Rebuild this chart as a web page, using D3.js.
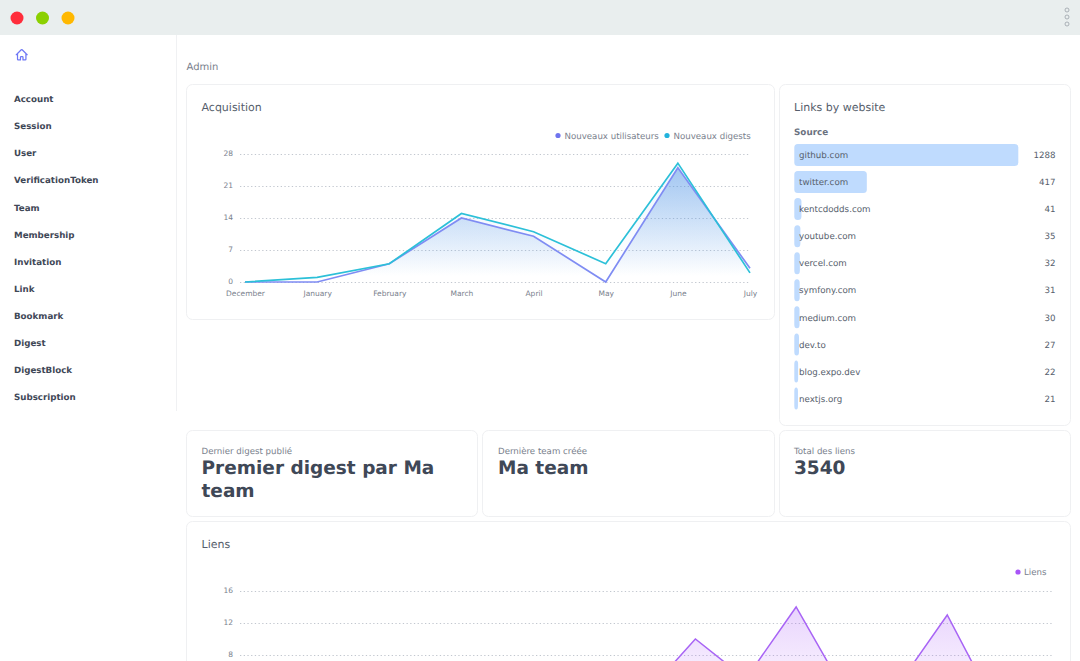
<!DOCTYPE html>
<html>
<head>
<meta charset="utf-8">
<script src="https://cdn.jsdelivr.net/npm/d3@7"></script>
<style>
  html, body { margin: 0; padding: 0; background: #fff; overflow: hidden; }
  svg { display: block; }
  text { font-family: "DejaVu Sans", sans-serif; text-rendering: geometricPrecision; }
</style>
</head>
<body>
<div class="graph-container"></div>
<script>
const menuItems = ["Account", "Session", "User", "VerificationToken", "Team", "Membership", "Invitation", "Link", "Bookmark", "Digest", "DigestBlock", "Subscription"];

const months = ["December", "January", "February", "March", "April", "May", "June", "July"];
const newUsers = [0, 0, 4, 14, 10, 0, 25, 3];
const newDigests = [0, 1, 4, 15, 11, 4, 26, 2];
const acquisitionTicks = [0, 7, 14, 21, 28];

const sources = ["github.com", "twitter.com", "kentcdodds.com", "youtube.com", "vercel.com", "symfony.com", "medium.com", "dev.to", "blog.expo.dev", "nextjs.org"];
const sourceCounts = [1288, 417, 41, 35, 32, 31, 30, 27, 22, 21];

// only the part of the Liens chart that is above the fold
const linkSlots = [8, 9, 10, 11, 12, 13, 14, 15];
const linkCounts = [3, 10, 5, 14, 3, 4, 13, 1];
const linkTicks = [8, 12, 16];

const dims = { width: 1080, height: 661 };

const svg = d3.select(".graph-container")
  .append("svg")
  .attr("width", dims.width)
  .attr("height", dims.height);

const defs = svg.append("defs");

let addGradient = (id, top, topOpacity) => {
  const g = defs.append("linearGradient").attr("id", id).attr("x1", 0).attr("x2", 0).attr("y1", 0).attr("y2", 1);
  g.append("stop").attr("offset", "5%").attr("stop-color", top).attr("stop-opacity", topOpacity);
  g.append("stop").attr("offset", "95%").attr("stop-color", top).attr("stop-opacity", 0);
};
addGradient("usersFill", "#4a90e2", 0.44);
addGradient("digestsFill", "#60a5fa", 0.1);
addGradient("linksFill", "#a855f7", 0.24);

// window bar
svg.append("rect").attr("width", dims.width).attr("height", 35).attr("fill", "#e9eeee");
svg.selectAll("circle.dot").data(["#ff2d3b", "#8bd000", "#ffb800"]).enter().append("circle")
  .attr("class", "dot")
  .attr("cx", (d, i) => 17 + i * 25.5)
  .attr("cy", 18)
  .attr("r", 6.5)
  .attr("fill", d => d);
svg.selectAll("circle.kebab").data([10, 17, 24]).enter().append("circle")
  .attr("class", "kebab")
  .attr("cx", 1067)
  .attr("cy", d => d)
  .attr("r", 2)
  .attr("fill", "none")
  .attr("stroke", "#9aa1a8")
  .attr("stroke-width", 0.8);

// sidebar
svg.append("line").attr("x1", 176.5).attr("x2", 176.5).attr("y1", 35).attr("y2", 411).attr("stroke", "#f0f1f3");
svg.append("path")
  .attr("transform", "translate(15,48) scale(0.56)")
  .attr("d", "M2.25 12 11.2 3.05a1.13 1.13 0 0 1 1.6 0L21.75 12M4.5 9.75V20.25c0 .62.5 1.13 1.13 1.13H9.75v-4.88c0-.62.5-1.13 1.13-1.13h2.25c.62 0 1.13.5 1.13 1.13v4.88h4.13c.62 0 1.13-.5 1.13-1.13V9.75")
  .attr("fill", "none")
  .attr("stroke", "#6f78f5")
  .attr("stroke-width", 2.2)
  .attr("stroke-linecap", "round")
  .attr("stroke-linejoin", "round");

const menuY = d3.scalePoint().domain(menuItems).range([99, 397]);
svg.selectAll("text.menu").data(menuItems).enter().append("text")
  .attr("class", "menu")
  .attr("x", 14)
  .attr("y", d => menuY(d) + 3.2)
  .attr("font-size", 8.7)
  .attr("font-weight", 700)
  .attr("fill", "#3f4857")
  .text(d => d);

svg.append("text").attr("x", 186.5).attr("y", 70).attr("font-size", 10).attr("fill", "#7a818d").text("Admin");

// cards
let card = (x, y, w, h) => svg.append("rect")
  .attr("x", x + 0.5).attr("y", y + 0.5).attr("width", w).attr("height", h).attr("rx", 6)
  .attr("fill", "#fff").attr("stroke", "#eff0f2");

let title = (x, y, label) => svg.append("text")
  .attr("x", x).attr("y", y).attr("font-size", 11).attr("fill", "#565e6c").text(label);

card(186, 84, 588, 235);
card(779, 84, 291, 341);
card(186, 430, 291, 86);
card(482, 430, 292, 86);
card(779, 430, 291, 86);
card(186, 521, 884, 160);

title(201.5, 111.2, "Acquisition");
title(794, 111.2, "Links by website");
title(201.5, 547.8, "Liens");

// acquisition chart
const xMonth = d3.scalePoint().domain(months).range([245, 750]);
const yAcq = d3.scaleLinear().domain([0, 28]).range([282, 154]);

const acq = svg.append("g").attr("class", "acquisition");

const acqGrid = acq.append("g").attr("transform", "translate(240,0)")
  .call(d3.axisLeft(yAcq).tickValues(acquisitionTicks).tickSize(-510).tickPadding(7));
acqGrid.select(".domain").remove();
acqGrid.selectAll("line").attr("stroke", "#c2c7cf").attr("stroke-dasharray", "1.3 2.4");
acqGrid.selectAll("text").attr("font-size", 7.5).attr("fill", "#7a818d").attr("dy", "0.25em");

const acqAxis = acq.append("g").attr("transform", "translate(0,282)")
  .call(d3.axisBottom(xMonth).tickSize(0).tickPadding(9));
acqAxis.select(".domain").remove();
acqAxis.selectAll("text").attr("font-size", 7.5).attr("fill", "#7a818d");

let acqArea = d3.area().x((d, i) => xMonth(months[i])).y0(yAcq(0)).y1(d => yAcq(d));
let acqLine = d3.line().x((d, i) => xMonth(months[i])).y(d => yAcq(d));

acq.append("path").attr("d", acqArea(newDigests)).attr("fill", "url(#digestsFill)");
acq.append("path").attr("d", acqArea(newUsers)).attr("fill", "url(#usersFill)");
acq.append("path").attr("d", acqLine(newUsers)).attr("fill", "none").attr("stroke", "#7f8cf3").attr("stroke-width", 1.7);
acq.append("path").attr("d", acqLine(newDigests)).attr("fill", "none").attr("stroke", "#2cc0d8").attr("stroke-width", 1.7);

let legendItem = (cx, y, color, label) => {
  svg.append("circle").attr("cx", cx).attr("cy", y).attr("r", 2.6).attr("fill", color);
  svg.append("text").attr("x", cx + 6.5).attr("y", y + 3).attr("font-size", 8.65).attr("fill", "#7a818d").text(label);
};
legendItem(558, 135.5, "#6f74ee", "Nouveaux utilisateurs");
legendItem(667, 135.5, "#22b3dd", "Nouveaux digests");

// links by website
svg.append("text").attr("x", 794).attr("y", 135.3).attr("font-size", 8.8).attr("font-weight", 700).attr("fill", "#6b7280").text("Source");

const xSource = d3.scaleLinear().domain([0, 1288]).range([0, 224]);
const ySource = d3.scalePoint().domain(sources).range([155, 398.5]);

svg.selectAll("rect.bar").data(sources).enter().append("rect")
  .attr("class", "bar")
  .attr("x", 794.3)
  .attr("y", d => ySource(d) - 11)
  .attr("width", (d, i) => xSource(sourceCounts[i]))
  .attr("height", 22)
  .attr("rx", 3.5)
  .attr("fill", "#bfdbfe");
svg.selectAll("text.source").data(sources).enter().append("text")
  .attr("class", "source")
  .attr("x", 799)
  .attr("y", d => ySource(d) + 3.2)
  .attr("font-size", 8.7)
  .attr("fill", "#565e6c")
  .text(d => d);
svg.selectAll("text.count").data(sources).enter().append("text")
  .attr("class", "count")
  .attr("x", 1055.5)
  .attr("y", d => ySource(d) + 3.2)
  .attr("text-anchor", "end")
  .attr("font-size", 8.7)
  .attr("fill", "#565e6c")
  .text((d, i) => sourceCounts[i]);

// stat cards
let statLabel = (x, label) => svg.append("text").attr("x", x).attr("y", 453.7).attr("font-size", 8.65).attr("fill", "#7a818d").text(label);
let statValue = (x, y, label) => svg.append("text").attr("x", x).attr("y", y).attr("font-size", 18.5).attr("font-weight", 700).attr("fill", "#3f4857").text(label);

statLabel(201.5, "Dernier digest publié");
statValue(201.5, 474, "Premier digest par Ma");
statValue(201.5, 497, "team");
statLabel(498, "Dernière team créée");
statValue(498, 474, "Ma team");
statLabel(794, "Total des liens");
statValue(794, 474, "3540");

// liens chart, runs past the bottom of the window
const xSlot = d3.scaleLinear().domain([0, 16]).range([242, 1048]);
const yLinks = d3.scaleLinear().domain([0, 16]).range([719, 591]);

const links = svg.append("g").attr("class", "links");

const linkGrid = links.append("g").attr("transform", "translate(240,0)")
  .call(d3.axisLeft(yLinks).tickValues(linkTicks).tickSize(-812).tickPadding(7));
linkGrid.select(".domain").remove();
linkGrid.selectAll("line").attr("stroke", "#c2c7cf").attr("stroke-dasharray", "1.3 2.4");
linkGrid.selectAll("text").attr("font-size", 7.5).attr("fill", "#7a818d").attr("dy", "0.25em");

let linkArea = d3.area().x((d, i) => xSlot(linkSlots[i])).y0(yLinks(0)).y1(d => yLinks(d));
let linkLine = d3.line().x((d, i) => xSlot(linkSlots[i])).y(d => yLinks(d));

links.append("path").attr("d", linkArea(linkCounts)).attr("fill", "url(#linksFill)");
links.append("path").attr("d", linkLine(linkCounts)).attr("fill", "none").attr("stroke", "#a864f5").attr("stroke-width", 1.5);

svg.append("circle").attr("cx", 1018).attr("cy", 572).attr("r", 2.6).attr("fill", "#a855f7");
svg.append("text").attr("x", 1024).attr("y", 575).attr("font-size", 8.65).attr("fill", "#7a818d").text("Liens");
</script>
</body>
</html>
